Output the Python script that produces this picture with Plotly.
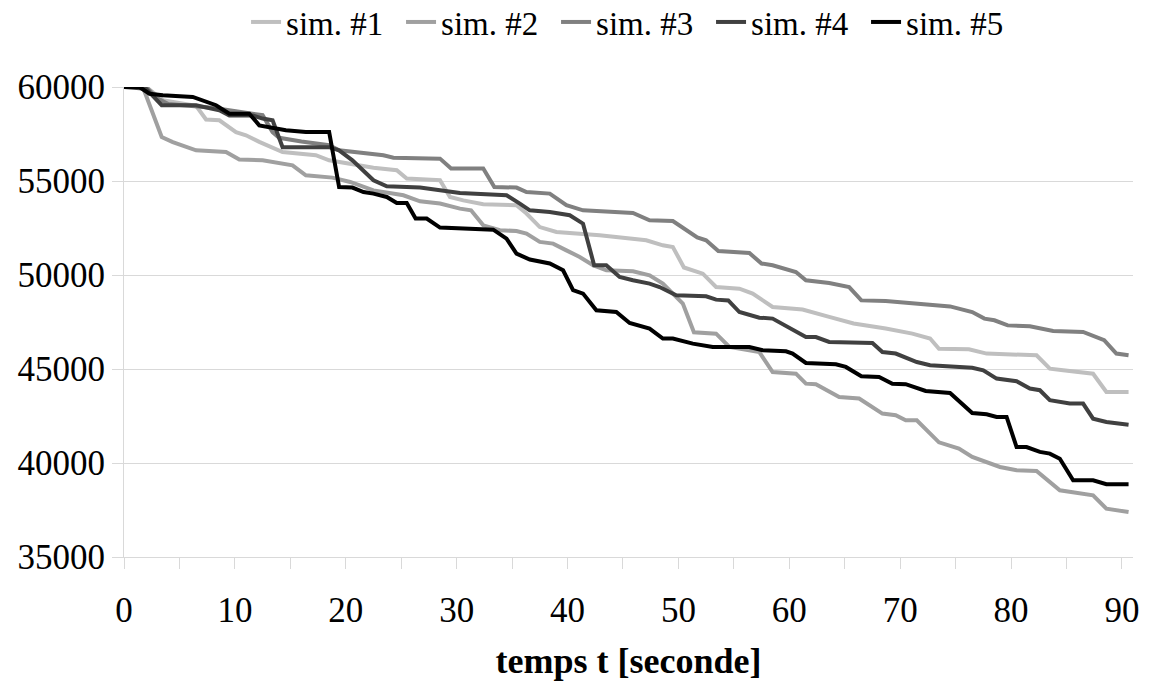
import plotly.graph_objects as go

# ---- data ----
sim1_x = [0, 2, 3.5, 6.5, 7.4, 8.6, 10.1, 11, 12.2, 13.7, 14.3, 17.3, 18.5, 22.5, 23.3, 24.6, 25.5, 28.5,
          29.4, 30.6, 32.4, 35.4, 36.3, 37.5, 39, 42.9, 47.1, 48.6, 49.5, 50.5, 52.2, 53.4, 55.5, 56.7,
          58.5, 61.2, 63.6, 65.8, 68.7, 71.1, 72.7, 73.5, 76.2, 77.8, 82.3, 83.5, 84.7, 87.4, 88.6, 90.6]
sim1_y = [60000, 60000, 59300, 59000, 58270, 58230, 57600, 57430, 57080, 56720, 56540, 56370, 56100, 55710,
          55660, 55570, 55130, 55040, 54150, 53970, 53760, 53710, 53270, 52550, 52290, 52110, 51850, 51580,
          51490, 50400, 50070, 49360, 49270, 49010, 48300, 48160, 47770, 47420, 47150, 46880, 46620, 46080,
          46050, 45820, 45730, 45020, 44930, 44750, 43780, 43780]

sim2_x = [0, 1.7, 3.4, 4.4, 6.5, 9.2, 10.4, 12.5, 15.2, 16.4, 18.8, 20.4, 22.5, 25.2, 26.7, 28.5, 30.3,
          31.3, 32.4, 33.9, 35.4, 36.3, 37.5, 38.7, 39.9, 41.1, 42.3, 43.5, 45.9, 47.4, 48.6, 50.4, 51.4,
          53.4, 54.6, 57.3, 58.5, 60.6, 61.5, 62.4, 64.5, 66.3, 68.4, 69.6, 70.5, 71.5, 73.5, 75.3, 76.5,
          79, 80.5, 82.3, 84.4, 87.4, 88.6, 90.6]
sim2_y = [60000, 60000, 57340, 57070, 56630, 56540, 56140, 56100, 55830, 55300, 55180, 54950, 54500, 54240,
          53920, 53800, 53530, 53440, 52640, 52380, 52340, 52200, 51760, 51670, 51310, 50960, 50520, 50250,
          50200, 49980, 49540, 48480, 46950, 46880, 46170, 45900, 44840, 44750, 44220, 44190, 43510, 43430,
          42630, 42540, 42270, 42270, 41100, 40770, 40320, 39790, 39610, 39580, 38550, 38280, 37570, 37390]

sim3_x = [0, 2, 3, 4, 8, 10, 12.5, 13.4, 14, 16, 18.5, 19.4, 23.4, 24.3, 28.5, 29.5, 32.4, 33.4, 35.4,
          36.3, 38.4, 39.9, 41.4, 45.9, 47.4, 49.5, 50.7, 51.7, 52.5, 53.6, 56.4, 57.5, 58.5, 60.6, 61.5,
          63.6, 65.4, 66.5, 68.7, 71.1, 74.5, 76.5, 77.6, 78.5, 79.7, 81.7, 83.8, 86.5, 88.4, 89.5, 90.6]
sim3_y = [60000, 60000, 59400, 59100, 58900, 58700, 58500, 57600, 57300, 57100, 56900, 56630, 56370, 56240,
          56190, 55660, 55660, 54680, 54650, 54410, 54330, 53710, 53440, 53300, 52910, 52870, 52380, 52000,
          51850, 51280, 51170, 50610, 50520, 50160, 49720, 49570, 49360, 48650, 48620, 48480, 48330, 48030,
          47680, 47590, 47320, 47270, 47020, 46970, 46530, 45820, 45730]

sim4_x = [0, 2, 3.4, 6.5, 8.6, 9.5, 11.6, 12.5, 13.4, 14.3, 18.5, 19.4, 20.6, 22.5, 23.7, 26.7, 30.3,
          34.5, 35.7, 36.6, 38.4, 40.2, 41.4, 42.4, 43.5, 44.7, 45.9, 47.4, 48.3, 49.8, 52.5, 53.4, 54.5,
          55.5, 57.3, 58.5, 61.5, 62.4, 63.6, 67.5, 68.4, 69.6, 71.5, 72.7, 76.5, 77.5, 78.7, 80.5, 81.7,
          82.6, 83.5, 85.3, 86.5, 87.4, 88.6, 90.6]
sim4_y = [60000, 59900, 59030, 59030, 58760, 58490, 58490, 58320, 58230, 56800, 56800, 56630, 56100, 55040,
          54720, 54650, 54360, 54240, 53800, 53440, 53350, 53180, 52730, 50520, 50520, 49900, 49720, 49540,
          49360, 48920, 48870, 48690, 48650, 48030, 47730, 47680, 46700, 46700, 46440, 46380, 45900, 45820,
          45370, 45200, 45070, 44930, 44490, 44350, 43960, 43870, 43340, 43160, 43160, 42360, 42180, 42040]

sim5_x = [0, 1.4, 2.3, 3.5, 6.2, 7.1, 8.3, 9.5, 11.3, 12.2, 14.6, 16.4, 18.5, 19.4, 20.6, 21.6, 22.5,
          23.7, 24.6, 25.5, 26.3, 27.3, 28.5, 33.3, 34.5, 35.4, 36.6, 38.4, 39.6, 40.5, 41.4, 42.6, 44.4,
          45.6, 47.4, 48.6, 49.5, 51.3, 53.1, 56.4, 57.6, 59.7, 60.3, 61.5, 64.2, 65.1, 66.5, 68.1, 69.3,
          70.5, 72.3, 74.5, 76.5, 77.8, 78.7, 79.6, 80.5, 81.4, 82.6, 83.5, 84.4, 85.6, 87.4, 88.6, 90.6]
sim5_y = [60000, 60000, 59640, 59560, 59470, 59290, 59030, 58580, 58580, 57960, 57700, 57610, 57610, 54680,
          54650, 54410, 54330, 54150, 53830, 53830, 53000, 53000, 52520, 52410, 51930, 51140, 50820, 50610,
          50250, 49190, 49010, 48120, 48030, 47450, 47150, 46620, 46620, 46350, 46170, 46170, 46000, 45940,
          45820, 45320, 45250, 45110, 44610, 44580, 44220, 44190, 43830, 43720, 42660, 42590, 42450, 42450,
          40850, 40850, 40590, 40500, 40230, 39080, 39080, 38870, 38870]

series_names = ["sim. #1", "sim. #2", "sim. #3", "sim. #4", "sim. #5"]
series_x = [sim1_x, sim2_x, sim3_x, sim4_x, sim5_x]
series_y = [sim1_y, sim2_y, sim3_y, sim4_y, sim5_y]
series_colors = ["#bfbfbf", "#a0a0a0", "#808080", "#404040", "#000000"]

x_title = "temps t [seconde]"

FONT = "Liberation Serif, Times New Roman, serif"
GRID = "#d9d9d9"

fig = go.Figure()
for name, xs, ys, col in zip(series_names, series_x, series_y, series_colors):
    fig.add_trace(go.Scatter(x=xs, y=ys, name=name, mode="lines",
                             line=dict(color=col, width=4)))

fig.update_layout(
    width=1153, height=687,
    margin=dict(l=124, r=20, t=87, b=130),
    paper_bgcolor="white", plot_bgcolor="white",
    font=dict(family=FONT, size=32, color="black"),
    showlegend=True,
    legend=dict(orientation="h", x=0.505, xanchor="center",
                yref="container", y=1 - 22 / 687, yanchor="middle",
                font=dict(family=FONT, size=33, color="black"),
                entrywidth=110, itemwidth=30, bgcolor="rgba(0,0,0,0)"),
    xaxis=dict(range=[0, 91], dtick=10, tick0=0, showgrid=False, zeroline=False,
               automargin=False,
               showline=True, linecolor=GRID, linewidth=1,
               ticks="outside", ticklen=11, tickcolor=GRID, tickwidth=1,
               minor=dict(dtick=5, tick0=0, ticks="outside", ticklen=11, tickcolor=GRID, showgrid=False),
               ticklabelstandoff=11,
               tickfont=dict(family=FONT, size=35, color="black"),
               title=dict(text="<b>" + x_title + "</b>", standoff=18,
                          font=dict(family=FONT, size=36, color="black"))),
    yaxis=dict(range=[35000, 60000], dtick=5000, tick0=35000, tickformat="d",
               automargin=False,
               showgrid=True, gridcolor=GRID, gridwidth=1, zeroline=False,
               showline=True, linecolor=GRID, linewidth=1,
               ticks="outside", ticklen=11, tickcolor=GRID, tickwidth=1,
               tickfont=dict(family=FONT, size=35, color="black")),
)

fig.write_html("out.html", config={"displayModeBar": False},
               post_script="document.body.style.margin='0';document.body.style.overflow='hidden';")
